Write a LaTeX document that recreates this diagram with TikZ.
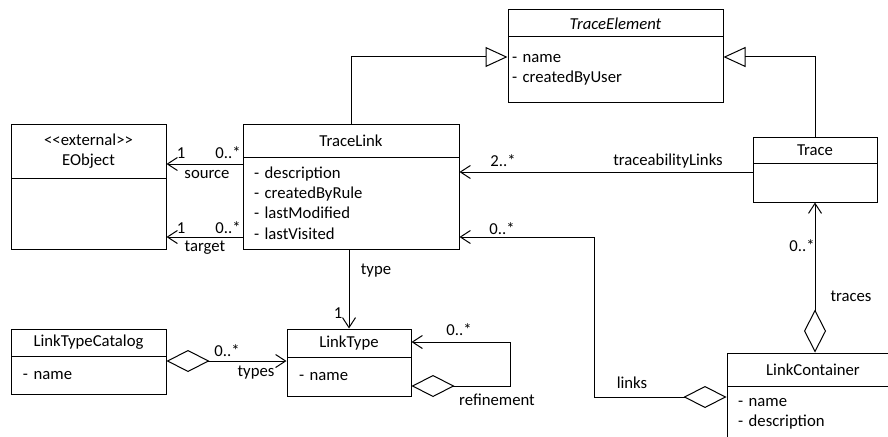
\documentclass[tikz,border=0pt]{standalone}
\usepackage{fontspec}
\setmainfont{Carlito}
\usetikzlibrary{arrows.meta}

\begin{document}
\begin{tikzpicture}[x=1pt, y=-1pt, line width=1pt,
        every node/.style={font=\fontsize{16.7}{20.2}\selectfont, inner sep=0pt},
        classhead/.style 2 args={draw, minimum width=#1, minimum height=#2},
        classbody/.style n args={3}{draw, text width=#1, minimum height=#2,
            inner xsep=#3, align=left},
        assoc/.style={-{Straight Barb[length=10pt,width=13pt]}},
        aggr/.style={{Diamond[open,length=43pt,width=22pt]}-{Straight Barb[length=10pt,width=13pt]}},
        gen/.style={-{Triangle[open,length=22pt,width=20pt]}}]
    \useasboundingbox (0,0) rectangle (888,436);
    \clip (0,0) rectangle (888,436);

    \node[classhead={155}{54}, align=center] (eoh) at (88.5,151) {<{}<external>{}>\\EObject};
    \node[classhead={155}{71}] (eob) at (88.5,213.5) {};

    \node[classhead={216}{33}] (tlh) at (351,140.5) {TraceLink};
    \node[classbody={194}{92}{11}] (tlb) at (351,203)
        {- description\\- createdByRule\\- lastModified\\- lastVisited};

    \node[classhead={215}{27}] (teh) at (615.5,23.5) {\itshape TraceElement};
    \node[classbody={207}{65}{4}] (teb) at (615.5,69.5) {- name\\- createdByUser};

    \node[classhead={124}{26}] (trh) at (815,150) {Trace};
    \node[classhead={124}{39}] (trb) at (815,182.5) {};

    \node[classhead={155}{27}] (ltch) at (88.5,342.5) {LinkTypeCatalog};
    \node[classbody={131}{38}{12}] (ltcb) at (88.5,375) {- name};

    \node[classhead={124}{28}] (lth) at (349,343) {LinkType};
    \node[classbody={100}{39}{12}] (ltb) at (349,376.5) {- name};

    \node[classhead={172}{33}] (lch) at (813,369.5) {LinkContainer};
    \node[classbody={150}{55}{11}, anchor=north] (lcb) at (813,386) {- name\\- description};

    \draw[gen] (tlh.north) |- (teb.west |- 0,57);
    \draw[gen] (trh.north) |- (teb.east |- 0,57);

    \draw[assoc] (tlb.west |- 0,164) -- (eoh.east |- 0,164);
    \node (srcone) at (181,153) {1};
    \node (srcmany) at (228,153) {0..*};
    \node (srcrole) at (207,175) {source};

    \draw[assoc] (tlb.west |- 0,237) -- (eob.east |- 0,237);
    \node (tgtone) at (181,228) {1};
    \node (tgtmany) at (228,228) {0..*};
    \node (tgtrole) at (205,248) {target};

    \draw[assoc] (trb.west |- 0,172) -- (tlb.east |- 0,172);
    \node (tlmany) at (503,161) {2..*};
    \node (tlrole) at (668,161) {traceabilityLinks};

    \draw[aggr] (lcb.west |- 0,397) -| (594,237) -- (tlb.east |- 0,237);
    \node (lkmany) at (502,229) {0..*};
    \node (lkrole) at (632,383) {links};

    \draw[aggr] (lch.north -| trb.south) -- (trb.south);
    \node (trmany) at (802,246) {0..*};
    \node (trrole) at (851,296) {traces};

    \draw[assoc] (tlb.south -| lth.north) -- (lth.north);
    \node (tyrole) at (376,271) {type};
    \node (tyone) at (338,313) {1};

    \draw[aggr] (ltcb.east |- 0,361) -- (ltb.west |- 0,361);
    \node (tsmany) at (227,351) {0..*};
    \node (tsrole) at (256,373) {types};

    \draw[aggr] (ltb.east |- 0,386) -| (510,342) -- (lth.east |- 0,342);
    \node (rfmany) at (459,330) {0..*};
    \node (rfrole) at (497,400) {refinement};
\end{tikzpicture}
\end{document}
